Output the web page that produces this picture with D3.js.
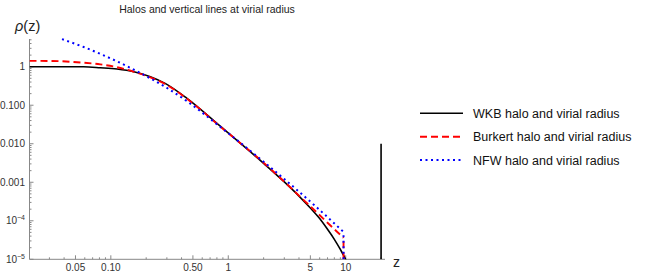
<!DOCTYPE html>
<html>
<head>
<meta charset="utf-8">
<script src="https://cdn.jsdelivr.net/npm/d3@7"></script>
<style>
  body { margin: 0; background: #fff; }
  text { font-family: "Liberation Sans", Arial, sans-serif; }
</style>
</head>
<body>
<div id="chart"></div>
<script>
var svgWidth = 664;
var svgHeight = 276;

// curves (z, rho)
var wkbZ   = [0.0203, 0.035, 0.0587, 0.0814, 0.113, 0.157, 0.217, 0.29, 0.445, 0.855, 2, 3, 4, 5, 6, 7, 8, 9, 10, 10.5];
var wkbRho = [1.0, 1.0, 0.995, 0.94, 0.87, 0.74, 0.55, 0.37, 0.151, 0.0285, 0.0031, 1.02e-3, 4.37e-4, 2.14e-4, 1.14e-4, 6.0e-5, 3.3e-5, 1.8e-5, 9.8e-6, 6.9e-6];

var burkertZ   = [0.0203, 0.0305, 0.0587, 0.0814, 0.113, 0.157, 0.217, 0.29, 0.445, 0.855, 2, 3, 4, 5, 7, 9.58];
var burkertRho = [1.42, 1.41, 1.27, 1.15, 0.97, 0.74, 0.53, 0.355, 0.147, 0.028, 0.0032, 1.04e-3, 4.5e-4, 2.37e-4, 8.9e-5, 3.6e-5];

var nfwZ   = [0.0384, 0.0587, 0.0814, 0.113, 0.157, 0.217, 0.29, 0.445, 0.855, 2, 3, 4, 5.5, 7, 9.58];
var nfwRho = [5.2, 3.24, 2.15, 1.375, 0.839, 0.498, 0.30, 0.127, 0.0274, 0.0034, 1.21e-3, 5.7e-4, 2.42e-4, 1.24e-4, 5.15e-5];

// vertical lines at virial radius
var virialZ   = [20, 9.58, 9.58];
var virialTop = [0.01, 3.6e-5, 5.15e-5];

var seriesNames = ["WKB halo and virial radius", "Burkert halo and virial radius", "NFW halo and virial radius"];
var seriesColors = ["#000000", "#ff0000", "#0000ff"];
var seriesDash = [null, "7,4", "2,3.5"];
var seriesWidth = [1.6, 1.9, 2];

var xMajor = [0.05, 0.1, 0.5, 1, 5, 10];
var xMajorLabels = ["0.05", "0.10", "0.50", "1", "5", "10"];
var yMajor = [1e-5, 1e-4, 1e-3, 1e-2, 1e-1, 1];
var yMajorLabels = ["10|-5", "10|-4", "0.001", "0.010", "0.100", "1"];

var svg = d3.select("#chart")
  .append("svg")
  .attr("width", svgWidth)
  .attr("height", svgHeight);

var xScale = d3.scaleLog().domain([0.0203, 21.6]).range([29.5, 385]);
var yScale = d3.scaleLog().domain([1e-5, 5.24]).range([259.3, 39]);

var axisColor = "#888";

// clip to plot area
svg.append("clipPath").attr("id", "plotClip")
  .append("rect")
  .attr("x", xScale.range()[0]).attr("y", 30)
  .attr("width", xScale.range()[1] - xScale.range()[0] + 5)
  .attr("height", yScale.range()[0] - 30);

// title
svg.append("text")
  .attr("x", 207)
  .attr("y", 13)
  .attr("text-anchor", "middle")
  .attr("font-size", "10.5px")
  .attr("fill", "#222")
  .text("Halos and vertical lines at virial radius");

// axes lines
svg.append("line")
  .attr("x1", xScale.range()[0]).attr("x2", xScale.range()[0])
  .attr("y1", yScale.range()[0]).attr("y2", yScale.range()[1])
  .attr("stroke", axisColor).attr("stroke-width", 1);
svg.append("line")
  .attr("x1", xScale.range()[0]).attr("x2", xScale.range()[1])
  .attr("y1", yScale.range()[0]).attr("y2", yScale.range()[0])
  .attr("stroke", axisColor).attr("stroke-width", 1);

// minor ticks
var xMinor = [];
[0.01, 0.1, 1, 10].forEach(function(d) {
  for (var k = 2; k <= 9; k++) xMinor.push(d * k);
});
xMinor = xMinor.filter(function(v) {
  return v >= xScale.domain()[0] && v <= xScale.domain()[1] && xMajor.indexOf(+v.toPrecision(3)) < 0;
});
var yMinor = [];
[1e-5, 1e-4, 1e-3, 1e-2, 1e-1, 1].forEach(function(d) {
  for (var k = 2; k <= 9; k++) yMinor.push(d * k);
});
yMinor = yMinor.filter(function(v) { return v <= yScale.domain()[1]; });

var y0 = yScale.range()[0];
var x0 = xScale.range()[0];

svg.selectAll(".xminor").data(xMinor).enter().append("line")
  .attr("x1", d => xScale(d)).attr("x2", d => xScale(d))
  .attr("y1", y0).attr("y2", y0 - 2)
  .attr("stroke", axisColor);
svg.selectAll(".xmajor").data(xMajor).enter().append("line")
  .attr("x1", d => xScale(d)).attr("x2", d => xScale(d))
  .attr("y1", y0).attr("y2", y0 - 4)
  .attr("stroke", axisColor);
svg.selectAll(".xlabel").data(xMajor).enter().append("text")
  .attr("x", d => xScale(d))
  .attr("y", 271)
  .attr("text-anchor", "middle")
  .attr("font-size", "10px")
  .attr("fill", "#333")
  .text((d, i) => xMajorLabels[i]);

svg.selectAll(".yminor").data(yMinor).enter().append("line")
  .attr("x1", x0).attr("x2", x0 + 2)
  .attr("y1", d => yScale(d)).attr("y2", d => yScale(d))
  .attr("stroke", axisColor);
svg.selectAll(".ymajor").data(yMajor).enter().append("line")
  .attr("x1", x0).attr("x2", x0 + 4)
  .attr("y1", d => yScale(d)).attr("y2", d => yScale(d))
  .attr("stroke", axisColor);

var yLabels = svg.selectAll(".ylabel").data(yMajor).enter().append("text")
  .attr("x", 25)
  .attr("y", d => yScale(d) + 3.5)
  .attr("text-anchor", "end")
  .attr("font-size", "10px")
  .attr("fill", "#333");
yLabels.each(function(d, i) {
  var parts = yMajorLabels[i].split("|");
  var t = d3.select(this);
  if (parts.length === 2) {
    t.append("tspan").text(parts[0]);
    t.append("tspan").attr("dy", -4).attr("font-size", "7px").text("\u2212" + parts[1].replace("-", ""));
  } else {
    t.text(parts[0]);
  }
});

// axis labels
var ylab = svg.append("text")
  .attr("x", 15)
  .attr("y", 31)
  .attr("font-size", "14.5px")
  .attr("fill", "#222");
ylab.append("tspan").attr("font-style", "italic").text("\u03c1");
ylab.append("tspan").text("(z)");

svg.append("text")
  .attr("x", 393)
  .attr("y", 267)
  .attr("font-size", "14px")
  .attr("fill", "#222")
  .text("z");

// curves
var line = d3.line()
  .x(d => xScale(d[0]))
  .y(d => yScale(d[1]))
  .curve(d3.curveMonotoneX);

var curves = [
  d3.zip(wkbZ, wkbRho),
  d3.zip(burkertZ, burkertRho),
  d3.zip(nfwZ, nfwRho)
];

var plot = svg.append("g").attr("clip-path", "url(#plotClip)");

curves.forEach(function(c, i) {
  plot.append("path")
    .datum(c)
    .attr("d", line)
    .attr("fill", "none")
    .attr("stroke", seriesColors[i])
    .attr("stroke-width", seriesWidth[i])
    .attr("stroke-dasharray", seriesDash[i]);
});

virialZ.forEach(function(z, i) {
  plot.append("line")
    .attr("x1", xScale(z)).attr("x2", xScale(z))
    .attr("y1", yScale(1e-5)).attr("y2", yScale(virialTop[i]))
    .attr("stroke", seriesColors[i])
    .attr("stroke-width", seriesWidth[i])
    .attr("stroke-dasharray", seriesDash[i]);
});

// legend
var legend = svg.append("g");
seriesNames.forEach(function(name, i) {
  var yy = 113.3 + i * 23.4;
  legend.append("line")
    .attr("x1", 420).attr("x2", 463)
    .attr("y1", yy).attr("y2", yy)
    .attr("stroke", seriesColors[i])
    .attr("stroke-width", seriesWidth[i])
    .attr("stroke-dasharray", seriesDash[i]);
  legend.append("text")
    .attr("x", 473)
    .attr("y", yy + 4.5)
    .attr("font-size", "12.5px")
    .attr("fill", "#111")
    .text(name);
});
</script>
</body>
</html>
